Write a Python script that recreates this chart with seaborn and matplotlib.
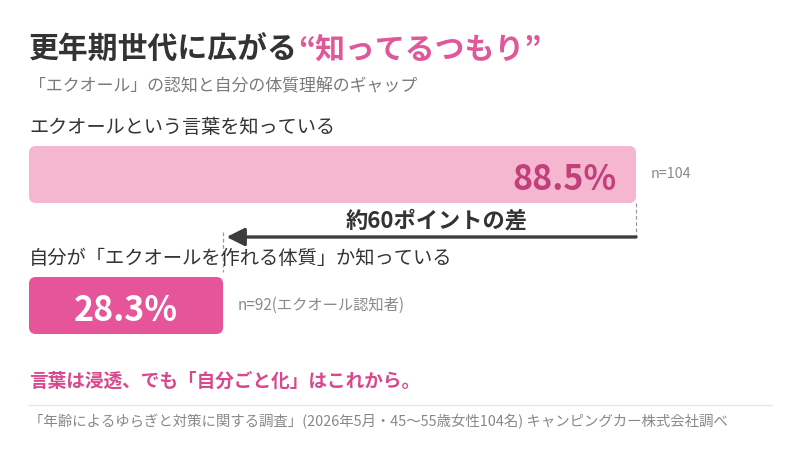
import matplotlib
matplotlib.use("Agg")
import matplotlib.pyplot as plt
from matplotlib.patches import FancyBboxPatch
import seaborn as sns

# data
labels = ["エクオールという言葉を知っている", "自分が「エクオールを作れる体質」か知っている"]
values = [88.5, 28.3]
notes = ["n=104", "n=92(エクオール認知者)"]
bar_colors = ["#F5B7CF", "#E6559A"]
value_colors = ["#C23F7C", "#FFFFFF"]
gap_label = "約60ポイントの差"

title_dark = "更年期世代に広がる"
title_pink = "“知ってるつもり”"
subtitle = "「エクオール」の認知と自分の体質理解のギャップ"
takeaway = "言葉は浸透、でも「自分ごと化」はこれから。"
source = "「年齢によるゆらぎと対策に関する調査」(2026年5月・45〜55歳女性104名) キャンピングカー株式会社調べ"

sns.set_theme(style="white")
plt.rcParams['font.family'] = ['Noto Sans CJK JP', 'DejaVu Sans']

W, H = 800, 450
fig = plt.figure(figsize=(8, 4.5), dpi=100)

# axes placed so that 0% sits at x=29px and 88.5% at x=636px
px_per_pct = (636 - 29) / 88.5
row_px = 131
ax = fig.add_axes([29 / W, 1 - 371 / H, 100 * px_per_pct / W, 262 / H])

sns.barplot(x=values, y=labels, hue=labels, palette=bar_colors, legend=False,
            width=57 / row_px, orient="h", ax=ax)
ax.set_xlim(0, 100)
ax.set_ylim(1.5, -0.5)
ax.axis("off")

# swap plain bars for rounded ones
asp = px_per_pct / row_px
for p, c in zip(list(ax.patches), bar_colors):
    x0, y0, w, h = p.get_x(), p.get_y(), p.get_width(), p.get_height()
    p.remove()
    ax.add_patch(FancyBboxPatch((x0, y0), w, h,
                                boxstyle="round,pad=0,rounding_size=1.0",
                                mutation_aspect=asp, fc=c, ec="none"))

# value labels, row labels, sample notes
ax.text(values[0] - 19 / px_per_pct, 0.01, f"{values[0]}%", ha="right", va="center_baseline",
        fontsize=24.5, fontweight="bold", color=value_colors[0])
ax.text(values[1] / 2, 1.01, f"{values[1]}%", ha="center", va="center_baseline",
        fontsize=24.5, fontweight="bold", color=value_colors[1])
label_sizes = [13.8, 13.9]
note_sizes = [10.3, 11]
for i, (lab, v, n) in enumerate(zip(labels, values, notes)):
    ax.text(0, i - 0.355, lab, ha="left", va="center", fontsize=label_sizes[i],
            color="#333333")
    ax.text(v + 15 / px_per_pct, i, n, ha="left", va="center", fontsize=note_sizes[i],
            color="#8a8a8a")

# gap arrow between the two bar ends
arrow_y = (237 - 174.5) / row_px
ax.plot([values[0], values[0]], [0.218, arrow_y], ls=(0, (3, 2)), lw=0.9, color="#999999")
ax.plot([values[1], values[1]], [(232 - 174.5) / row_px, (272 - 174.5) / row_px],
        ls=(0, (3, 2)), lw=0.9, color="#999999")
ax.annotate("", xy=(values[1] + 0.5, arrow_y), xytext=(values[0], arrow_y),
            arrowprops=dict(arrowstyle="-|>,head_length=0.9,head_width=0.45",
                            lw=2.4, color="#3d3d3d", shrinkA=0, shrinkB=0))
ax.text((values[0] + values[1]) / 2 + 1, arrow_y - 0.125, gap_label, ha="center",
        va="center", fontsize=16, fontweight="bold", color="#333333")

# titles
t1 = fig.text(29 / W, 1 - 50 / H, title_dark, fontsize=21.5, fontweight="bold",
              color="#333333", va="center", ha="left")
fig.canvas.draw()
bb = t1.get_window_extent()
fig.text(bb.x1 / W, 1 - 50 / H, title_pink, fontsize=21.5, fontweight="bold",
         color="#E0579A", va="center", ha="left")
fig.text(29 / W, 1 - 86 / H, subtitle, fontsize=12.2, color="#7a7a7a",
         va="center", ha="left")

fig.text(29 / W, 1 - 381 / H, takeaway, fontsize=13.4, fontweight="bold",
         color="#D9488D", va="center", ha="left")
fig.add_artist(plt.Line2D([29 / W, 772 / W], [1 - 405 / H, 1 - 405 / H],
                          color="#e6e6e6", lw=1))
fig.text(29 / W, 1 - 422 / H, source, fontsize=10.4, color="#888888",
         va="center", ha="left")

fig.savefig("out.png", dpi=100, facecolor="white")
